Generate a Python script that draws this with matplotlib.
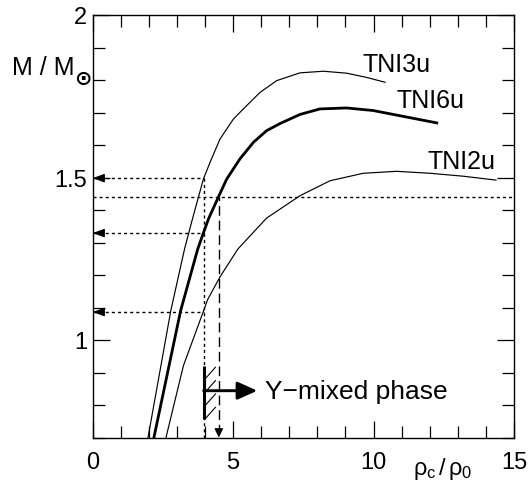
import matplotlib
matplotlib.use("Agg")
import matplotlib.pyplot as plt
import numpy as np

plt.rcParams['font.family'] = ['Liberation Sans', 'DejaVu Sans']
plt.rcParams['mathtext.fontset'] = 'custom'
plt.rcParams['mathtext.rm'] = 'Liberation Sans'
plt.rcParams['mathtext.it'] = 'Liberation Sans'

# ---- data ----
tni3u_x = [1.97, 2.78, 3.27, 3.55, 3.94, 4.18, 4.53, 5.01, 5.48, 5.96, 6.55, 7.38, 8.21, 9.04, 9.75, 10.41]
tni3u_y = [0.70, 1.090, 1.28, 1.372, 1.495, 1.547, 1.618, 1.680, 1.721, 1.762, 1.798, 1.822, 1.827, 1.821, 1.808, 1.793]

tni6u_x = [2.18, 3.13, 3.74, 3.94, 4.12, 4.47, 4.77, 5.24, 5.72, 6.19, 6.67, 7.38, 8.09, 9.04, 9.99, 10.94, 12.25]
tni6u_y = [0.70, 1.090, 1.28, 1.329, 1.372, 1.439, 1.495, 1.557, 1.608, 1.644, 1.666, 1.694, 1.711, 1.714, 1.706, 1.690, 1.668]

tni2u_x = [2.61, 3.23, 3.94, 4.09, 4.53, 5.17, 6.19, 7.38, 8.45, 9.63, 10.82, 12.01, 13.19, 14.36]
tni2u_y = [0.70, 0.921, 1.088, 1.124, 1.194, 1.28, 1.375, 1.444, 1.490, 1.513, 1.519, 1.513, 1.504, 1.492]

curve_labels = ['TNI3u', 'TNI6u', 'TNI2u']
label_xy = [(10.81, 1.849), (12.04, 1.739), (13.12, 1.551)]

x_cut = 3.95          # dotted vertical
x_crit = 4.49         # dashed vertical (TNI6u at critical mass)
m_crit = 1.441        # horizontal dotted line
arrow_levels = [1.498, 1.329, 1.086]

phase_x = 3.95
phase_ybot, phase_ytop = 0.757, 0.921
phase_arrow_y = 0.844
phase_arrow_end = 5.86
phase_text = 'Y\u2212mixed phase'

xmin, xmax = 0, 15
ymin, ymax = 0.7, 2.0
x_major = [0, 5, 10, 15]
y_major = [1.0, 1.5, 2.0]
y_major_labels = ['1', '1.5', '2']

# ---- figure ----
fig = plt.figure(figsize=(5.30, 4.81), dpi=100)
ax = fig.add_axes([92.7/530, 1 - 438.5/481, (514 - 92.7)/530, (438.5 - 16)/481])
ax.set_xlim(xmin, xmax)
ax.set_ylim(ymin, ymax)

ax.plot(tni3u_x, tni3u_y, color='black', lw=0.85, solid_joinstyle='round')
ax.plot(tni6u_x, tni6u_y, color='black', lw=2.0, solid_joinstyle='round')
ax.plot(tni2u_x, tni2u_y, color='black', lw=0.85, solid_joinstyle='round')

for lab, (lx, ly) in zip(curve_labels, label_xy):
    ax.text(lx, ly, lab, fontsize=18, ha='center', va='center')

dot = (0, (2.2, 2.2))
# horizontal critical-mass line
ax.plot([xmin, xmax], [m_crit, m_crit], color='black', lw=1.0, ls=dot)
# dotted vertical at x_cut
ax.plot([x_cut, x_cut], [ymin, arrow_levels[0]], color='black', lw=1.0, ls=dot)
# dotted arrows to the y axis
for yl in arrow_levels:
    ax.plot([xmin, x_cut], [yl, yl], color='black', lw=1.0, ls=dot)
    ax.annotate('', xy=(xmin, yl), xytext=(7, 0), textcoords='offset points',
                arrowprops=dict(arrowstyle='-|>,head_length=0.6,head_width=0.22',
                                mutation_scale=12, color='black', lw=0.8,
                                shrinkA=0, shrinkB=0))
# dashed vertical with arrow
ax.plot([x_crit, x_crit], [ymin + 0.01, m_crit], color='black', lw=1.0, ls=(0, (7, 3.5)))
ax.annotate('', xy=(x_crit, ymin), xytext=(0, 5), textcoords='offset points',
            arrowprops=dict(arrowstyle='-|>,head_length=0.45,head_width=0.22',
                            mutation_scale=12, color='black', lw=0.8,
                            shrinkA=0, shrinkB=0))

# Y-mixed phase bracket
ax.plot([phase_x, phase_x], [phase_ybot, phase_ytop], color='black', lw=2.2, solid_capstyle='butt')
n_h = 4
step = (phase_ytop - phase_ybot) / n_h
for i in range(n_h):
    y0 = phase_ybot + i * step
    ax.plot([phase_x + 0.05, phase_x + 0.42], [y0, y0 + 0.036], color='black', lw=0.8)
ax.annotate('', xy=(phase_arrow_end, phase_arrow_y), xytext=(phase_x, phase_arrow_y),
            arrowprops=dict(arrowstyle='-|>,head_length=1.0,head_width=0.45',
                            mutation_scale=12, color='black', lw=2.1,
                            shrinkA=0, shrinkB=0))
ax.text(phase_arrow_end + 0.27, phase_arrow_y, phase_text, fontsize=19, ha='left', va='center')

# ticks
ax.set_xticks(x_major)
ax.set_xticks(np.arange(xmin, xmax + 1, 1), minor=True)
ax.set_yticks(y_major)
ax.set_yticklabels(y_major_labels)
ax.set_yticks(np.arange(0.7, 2.0001, 0.1), minor=True)
ax.tick_params(which='both', direction='in', top=True, right=True, width=0.9, labelsize=17)
ax.tick_params(which='major', length=12.5)
ax.tick_params(which='minor', length=8.7)
ax.tick_params(axis='x', which='major', pad=10)
ax.tick_params(axis='y', which='major', pad=4)
for s in ax.spines.values():
    s.set_linewidth(1.0)

# axis labels
fig.text(75/530, 1 - 68/481, 'M / M', fontsize=18, ha='right', va='center')
fig.text(83/530, 1 - 79/481, '\u2299', fontsize=15, ha='center', va='center',
         family='DejaVu Sans', fontweight='bold')
ax.text(12.48, 0.607, r'$\rho_{\mathrm{c}}\,/\,\rho_0$', fontsize=17, ha='center', va='center',
        clip_on=False)

fig.savefig('out.png', dpi=100)
